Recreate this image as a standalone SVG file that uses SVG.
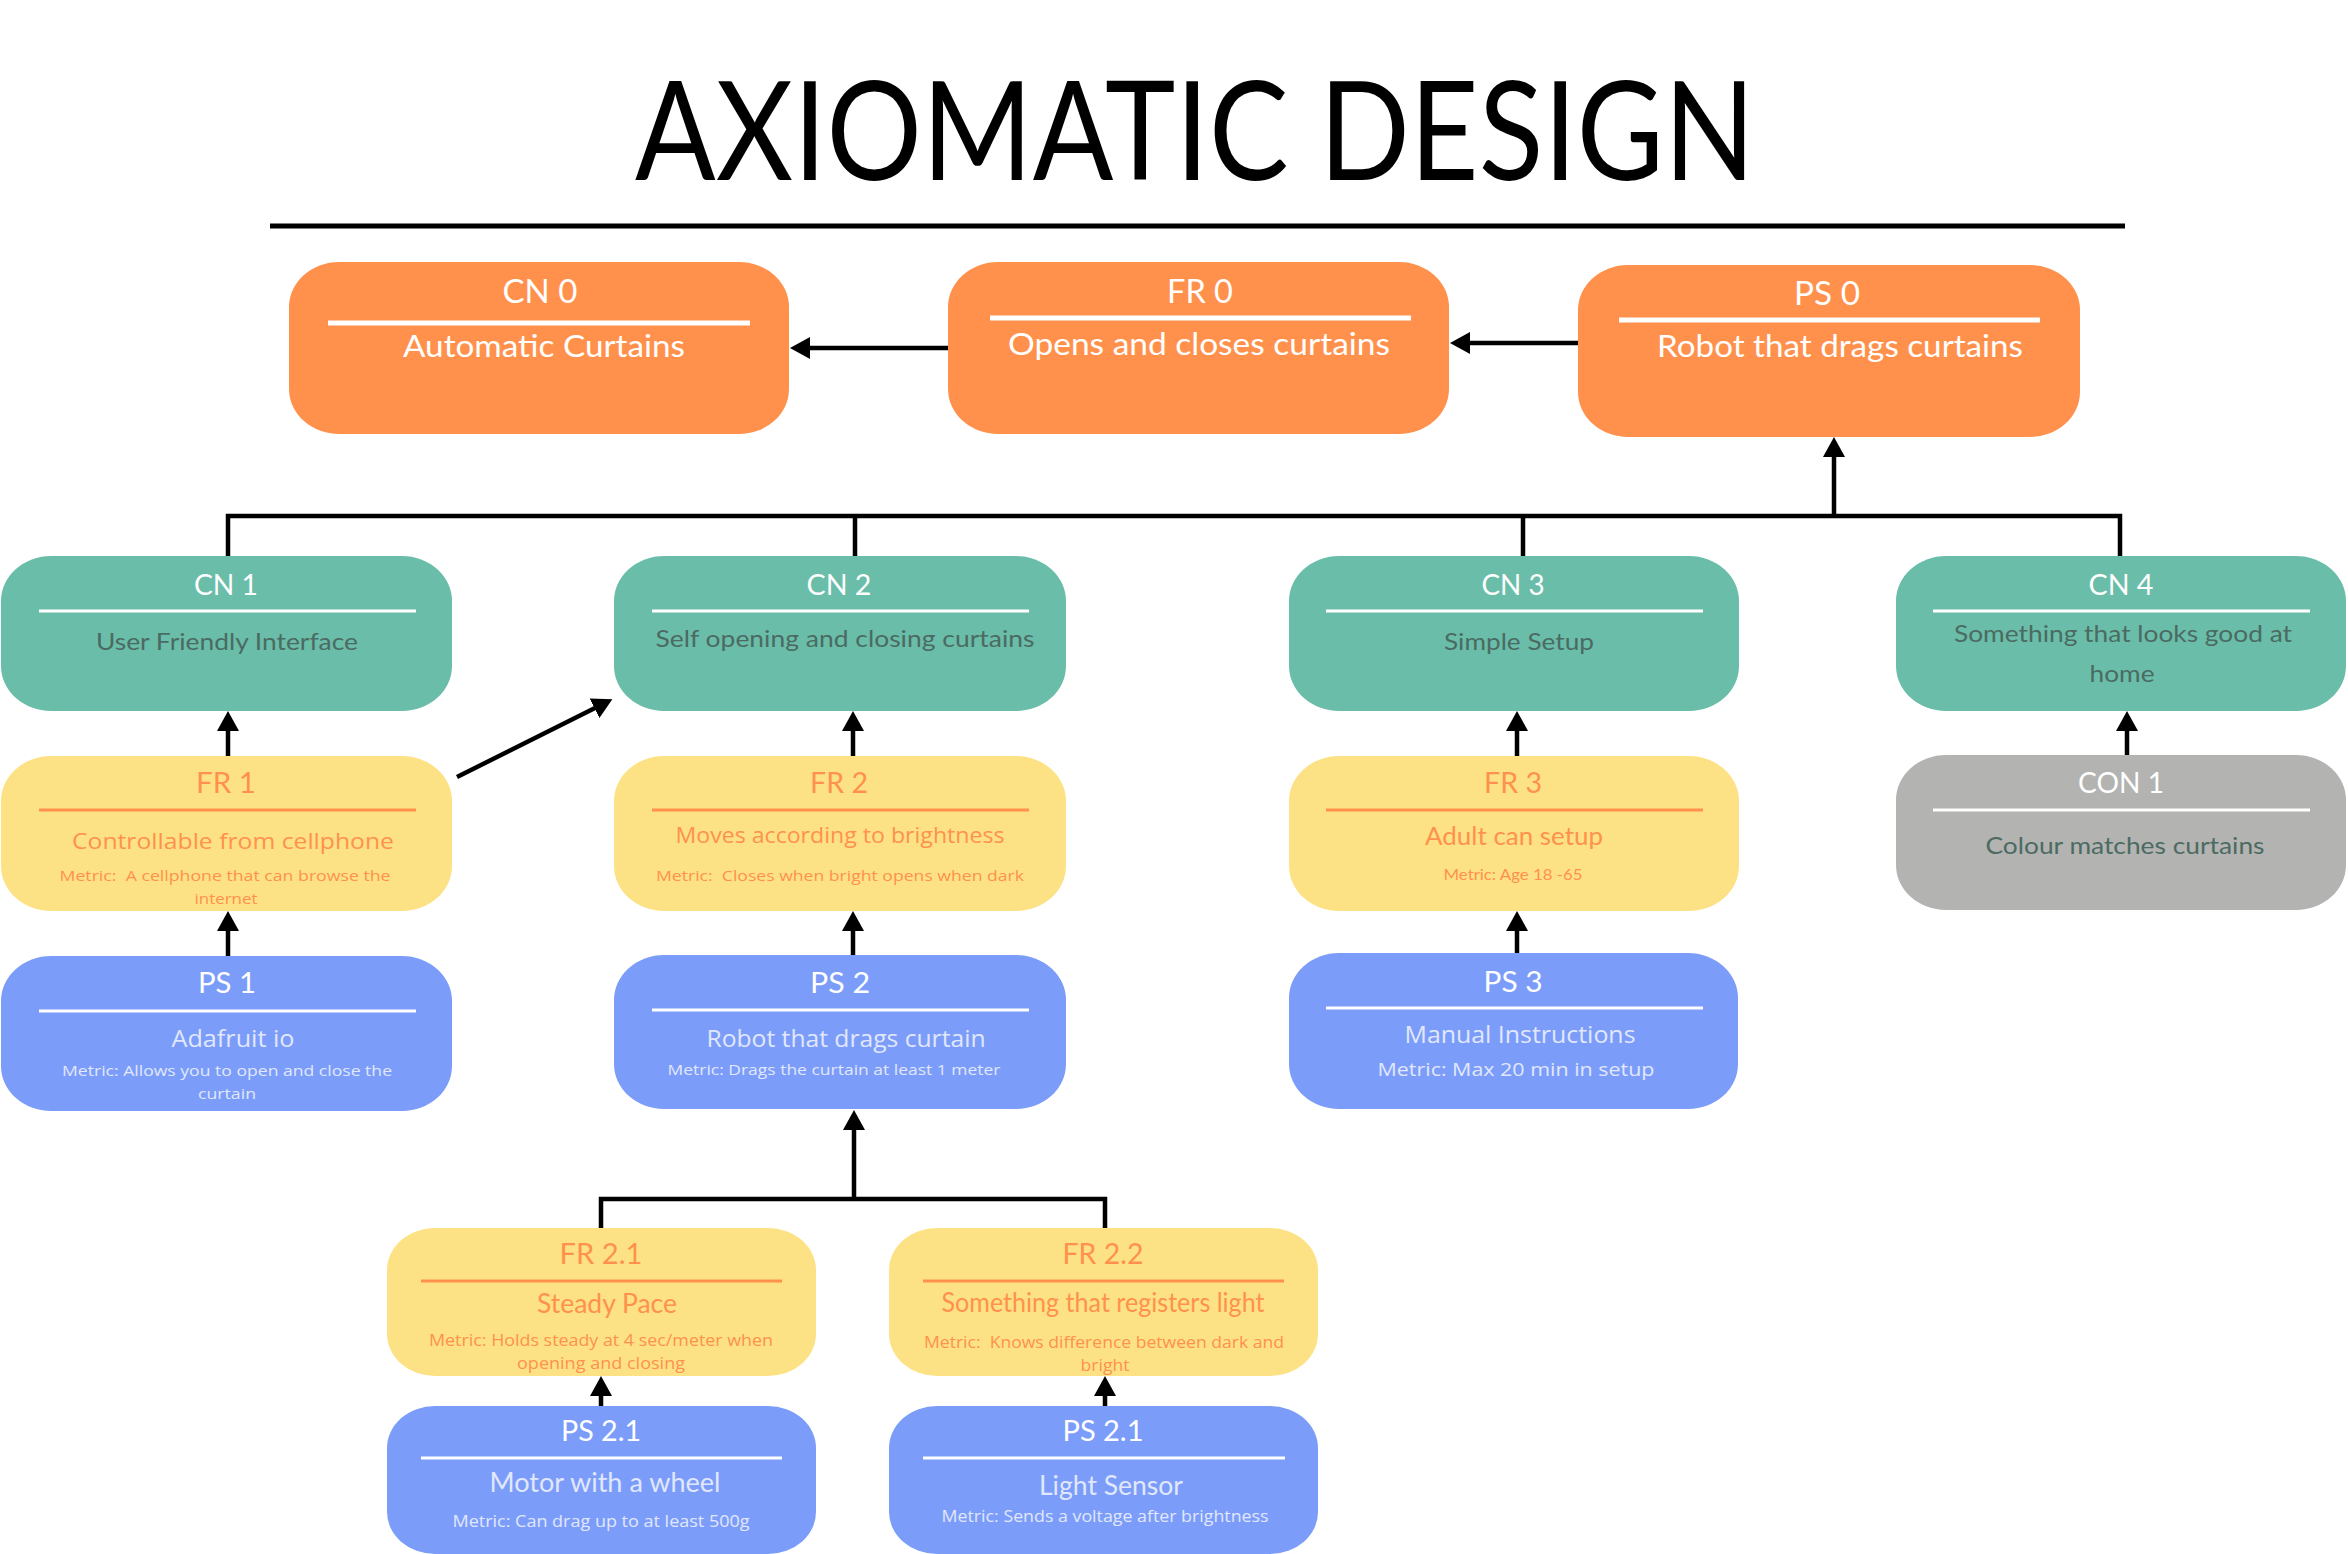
<svg xmlns="http://www.w3.org/2000/svg" width="2348" height="1554" viewBox="0 0 2348 1554">
<style>
text{text-anchor:middle}
.l{font-family:Lato,"Liberation Sans",sans-serif}
.o{font-family:"Open Sans","Liberation Sans",sans-serif}
.w{fill:#ffffff}
.tt{fill:#4b6b62}
.yt{fill:#ff914d}
.bt{fill:#e1e7fc}
.orange{fill:#ff914d}
.teal{fill:#6abda9}
.yellow{fill:#fde285}
.blue{fill:#7b9df9}
.grey{fill:#b3b3b1}
.dw{stroke:#ffffff;stroke-width:3}
.dw5{stroke:#ffffff;stroke-width:5}
.dy{stroke:#ff914d;stroke-width:3}
.c{stroke:#000;stroke-width:4.5;fill:none}
</style>
<defs>
<marker id="ah" markerUnits="userSpaceOnUse" markerWidth="22" markerHeight="24" refX="14" refY="11" orient="auto">
<path d="M0,0 L20,11 L0,22 Z" fill="#000"/>
</marker>
</defs>
<rect width="2348" height="1554" fill="#ffffff"/>
<g id="title">
<text class="l" x="1195" y="180" font-size="137" textLength="1120" lengthAdjust="spacingAndGlyphs" fill="#000">AXIOMATIC DESIGN</text>
<line x1="270" y1="226" x2="2125" y2="226" stroke="#000" stroke-width="5"/>
</g>
<g id="connectors">
<line class="c" x1="948" y1="348" x2="796" y2="348" marker-end="url(#ah)"/>
<line class="c" x1="1578" y1="343" x2="1456" y2="343" marker-end="url(#ah)"/>
<line class="c" x1="1834" y1="516" x2="1834" y2="443" marker-end="url(#ah)"/>
<polyline class="c" points="228,556 228,516 2120,516 2120,556"/>
<line class="c" x1="855" y1="516" x2="855" y2="556"/>
<line class="c" x1="1523" y1="516" x2="1523" y2="556"/>
<line class="c" x1="228" y1="756" x2="228" y2="717" marker-end="url(#ah)"/>
<line class="c" x1="853" y1="756" x2="853" y2="717" marker-end="url(#ah)"/>
<line class="c" x1="1517" y1="756" x2="1517" y2="717" marker-end="url(#ah)"/>
<line class="c" x1="2127" y1="755" x2="2127" y2="717" marker-end="url(#ah)"/>
<line class="c" x1="228" y1="956" x2="228" y2="917" marker-end="url(#ah)"/>
<line class="c" x1="853" y1="955" x2="853" y2="917" marker-end="url(#ah)"/>
<line class="c" x1="1517" y1="953" x2="1517" y2="917" marker-end="url(#ah)"/>
<line class="c" x1="457" y1="777" x2="607" y2="702" marker-end="url(#ah)"/>
<line class="c" x1="854" y1="1199" x2="854" y2="1116" marker-end="url(#ah)"/>
<polyline class="c" points="601,1228 601,1199 1105,1199 1105,1228"/>
<line class="c" x1="601" y1="1406" x2="601" y2="1382" marker-end="url(#ah)"/>
<line class="c" x1="1105" y1="1406" x2="1105" y2="1382" marker-end="url(#ah)"/>
</g>
<g id="CN0">
<rect class="orange" x="289" y="262" width="500" height="172" rx="50" ry="45"/>
<line class="dw5" x1="328" y1="323" x2="750" y2="323"/>
<text class="l w" x="540" y="303" font-size="32" textLength="75" lengthAdjust="spacingAndGlyphs">CN 0</text>
<text class="l w" x="544" y="357" font-size="31" textLength="282" lengthAdjust="spacingAndGlyphs">Automatic Curtains</text>
</g>
<g id="FR0">
<rect class="orange" x="948" y="262" width="501" height="172" rx="50" ry="45"/>
<line class="dw5" x1="990" y1="318" x2="1411" y2="318"/>
<text class="l w" x="1200" y="303" font-size="32" textLength="66" lengthAdjust="spacingAndGlyphs">FR 0</text>
<text class="l w" x="1199" y="355" font-size="31" textLength="382" lengthAdjust="spacingAndGlyphs">Opens and closes curtains</text>
</g>
<g id="PS0">
<rect class="orange" x="1578" y="265" width="502" height="172" rx="50" ry="45"/>
<line class="dw5" x1="1619" y1="320" x2="2040" y2="320"/>
<text class="l w" x="1827" y="305" font-size="32" textLength="66" lengthAdjust="spacingAndGlyphs">PS 0</text>
<text class="l w" x="1840" y="357" font-size="31" textLength="366" lengthAdjust="spacingAndGlyphs">Robot that drags curtains</text>
</g>
<g id="CN1">
<rect class="teal" x="1" y="556" width="451" height="155" rx="50" ry="45"/>
<line class="dw" x1="39" y1="611" x2="416" y2="611"/>
<text class="l w" x="226" y="595" font-size="29" textLength="64" lengthAdjust="spacingAndGlyphs">CN 1</text>
<text class="l tt" x="227" y="650" font-size="24" textLength="262" lengthAdjust="spacingAndGlyphs">User Friendly Interface</text>
</g>
<g id="CN2">
<rect class="teal" x="614" y="556" width="452" height="155" rx="50" ry="45"/>
<line class="dw" x1="652" y1="611" x2="1029" y2="611"/>
<text class="l w" x="839" y="595" font-size="29" textLength="65" lengthAdjust="spacingAndGlyphs">CN 2</text>
<text class="l tt" x="845" y="647" font-size="24" textLength="379" lengthAdjust="spacingAndGlyphs">Self opening and closing curtains</text>
</g>
<g id="CN3">
<rect class="teal" x="1289" y="556" width="450" height="155" rx="50" ry="45"/>
<line class="dw" x1="1326" y1="611" x2="1703" y2="611"/>
<text class="l w" x="1513" y="595" font-size="29" textLength="63" lengthAdjust="spacingAndGlyphs">CN 3</text>
<text class="l tt" x="1519" y="650" font-size="24" textLength="150" lengthAdjust="spacingAndGlyphs">Simple Setup</text>
</g>
<g id="CN4">
<rect class="teal" x="1896" y="556" width="450" height="155" rx="50" ry="45"/>
<line class="dw" x1="1933" y1="611" x2="2310" y2="611"/>
<text class="l w" x="2121" y="595" font-size="29" textLength="65" lengthAdjust="spacingAndGlyphs">CN 4</text>
<text class="l tt" x="2123" y="642" font-size="24" textLength="338" lengthAdjust="spacingAndGlyphs">Something that looks good at</text>
<text class="l tt" x="2122" y="682" font-size="24" textLength="65" lengthAdjust="spacingAndGlyphs">home</text>
</g>
<g id="FR1">
<rect class="yellow" x="1" y="756" width="451" height="155" rx="50" ry="45"/>
<line class="dy" x1="39" y1="810" x2="416" y2="810"/>
<text class="l yt" x="226" y="793" font-size="28" textLength="60" lengthAdjust="spacingAndGlyphs">FR 1</text>
<text class="o yt" x="233" y="849" font-size="22" textLength="322" lengthAdjust="spacingAndGlyphs">Controllable from cellphone</text>
<text class="o yt" x="225" y="881" font-size="15" textLength="331" lengthAdjust="spacingAndGlyphs" xml:space="preserve">Metric:  A cellphone that can browse the</text>
<text class="o yt" x="226" y="904" font-size="15" textLength="63" lengthAdjust="spacingAndGlyphs">internet</text>
</g>
<g id="FR2">
<rect class="yellow" x="614" y="756" width="452" height="155" rx="50" ry="45"/>
<line class="dy" x1="652" y1="810" x2="1029" y2="810"/>
<text class="l yt" x="839" y="793" font-size="28" textLength="58" lengthAdjust="spacingAndGlyphs">FR 2</text>
<text class="o yt" x="840" y="843" font-size="22" textLength="329" lengthAdjust="spacingAndGlyphs">Moves according to brightness</text>
<text class="o yt" x="840" y="881" font-size="15" textLength="368" lengthAdjust="spacingAndGlyphs" xml:space="preserve">Metric:  Closes when bright opens when dark</text>
</g>
<g id="FR3">
<rect class="yellow" x="1289" y="756" width="450" height="155" rx="50" ry="45"/>
<line class="dy" x1="1326" y1="810" x2="1703" y2="810"/>
<text class="l yt" x="1513" y="793" font-size="28" textLength="58" lengthAdjust="spacingAndGlyphs">FR 3</text>
<text class="l yt" x="1514" y="845" font-size="25" textLength="178" lengthAdjust="spacingAndGlyphs">Adult can setup</text>
<text class="l yt" x="1513" y="880" font-size="16" textLength="139" lengthAdjust="spacingAndGlyphs">Metric: Age 18 -65</text>
</g>
<g id="CON1">
<rect class="grey" x="1896" y="755" width="450" height="155" rx="50" ry="45"/>
<line class="dw" x1="1933" y1="810" x2="2310" y2="810"/>
<text class="l w" x="2121" y="793" font-size="29" textLength="86" lengthAdjust="spacingAndGlyphs">CON 1</text>
<text class="l tt" x="2125" y="854" font-size="24" textLength="279" lengthAdjust="spacingAndGlyphs">Colour matches curtains</text>
</g>
<g id="PS1">
<rect class="blue" x="1" y="956" width="451" height="155" rx="50" ry="45"/>
<line class="dw" x1="39" y1="1011" x2="416" y2="1011"/>
<text class="l w" x="227" y="993" font-size="29" textLength="58" lengthAdjust="spacingAndGlyphs">PS 1</text>
<text class="o bt" x="233" y="1047" font-size="23" textLength="123" lengthAdjust="spacingAndGlyphs">Adafruit io</text>
<text class="o bt" x="227" y="1076" font-size="15" textLength="330" lengthAdjust="spacingAndGlyphs">Metric: Allows you to open and close the</text>
<text class="o bt" x="227" y="1099" font-size="15" textLength="58" lengthAdjust="spacingAndGlyphs">curtain</text>
</g>
<g id="PS2">
<rect class="blue" x="614" y="955" width="452" height="154" rx="50" ry="45"/>
<line class="dw" x1="652" y1="1010" x2="1029" y2="1010"/>
<text class="l w" x="840" y="993" font-size="29" textLength="60" lengthAdjust="spacingAndGlyphs">PS 2</text>
<text class="o bt" x="846" y="1047" font-size="23" textLength="279" lengthAdjust="spacingAndGlyphs">Robot that drags curtain</text>
<text class="o bt" x="834" y="1075" font-size="15" textLength="333" lengthAdjust="spacingAndGlyphs">Metric: Drags the curtain at least 1 meter</text>
</g>
<g id="PS3">
<rect class="blue" x="1289" y="953" width="449" height="156" rx="50" ry="45"/>
<line class="dw" x1="1326" y1="1008" x2="1703" y2="1008"/>
<text class="l w" x="1513" y="992" font-size="29" textLength="59" lengthAdjust="spacingAndGlyphs">PS 3</text>
<text class="o bt" x="1520" y="1043" font-size="23" textLength="231" lengthAdjust="spacingAndGlyphs">Manual Instructions</text>
<text class="o bt" x="1516" y="1076" font-size="18" textLength="277" lengthAdjust="spacingAndGlyphs">Metric: Max 20 min in setup</text>
</g>
<g id="FR2_1">
<rect class="yellow" x="387" y="1228" width="429" height="148" rx="48" ry="42"/>
<line class="dy" x1="421" y1="1281" x2="782" y2="1281"/>
<text class="l yt" x="601" y="1264" font-size="28" textLength="83" lengthAdjust="spacingAndGlyphs">FR 2.1</text>
<text class="l yt" x="607" y="1313" font-size="26" textLength="140" lengthAdjust="spacingAndGlyphs">Steady Pace</text>
<text class="o yt" x="601" y="1346" font-size="16" textLength="344" lengthAdjust="spacingAndGlyphs">Metric: Holds steady at 4 sec/meter when</text>
<text class="o yt" x="601" y="1369" font-size="16" textLength="168" lengthAdjust="spacingAndGlyphs">opening and closing</text>
</g>
<g id="FR2_2">
<rect class="yellow" x="889" y="1228" width="429" height="148" rx="48" ry="42"/>
<line class="dy" x1="923" y1="1281" x2="1284" y2="1281"/>
<text class="l yt" x="1103" y="1264" font-size="28" textLength="81" lengthAdjust="spacingAndGlyphs">FR 2.2</text>
<text class="l yt" x="1103" y="1312" font-size="26" textLength="323" lengthAdjust="spacingAndGlyphs">Something that registers light</text>
<text class="o yt" x="1104" y="1348" font-size="16" textLength="360" lengthAdjust="spacingAndGlyphs" xml:space="preserve">Metric:  Knows difference between dark and</text>
<text class="o yt" x="1105" y="1371" font-size="16" textLength="49" lengthAdjust="spacingAndGlyphs">bright</text>
</g>
<g id="PS2_1a">
<rect class="blue" x="387" y="1406" width="429" height="148" rx="48" ry="42"/>
<line class="dw" x1="421" y1="1458" x2="782" y2="1458"/>
<text class="l w" x="601" y="1441" font-size="28" textLength="80" lengthAdjust="spacingAndGlyphs">PS 2.1</text>
<text class="l bt" x="605" y="1492" font-size="27" textLength="231" lengthAdjust="spacingAndGlyphs">Motor with a wheel</text>
<text class="o bt" x="601" y="1527" font-size="16" textLength="297" lengthAdjust="spacingAndGlyphs">Metric: Can drag up to at least 500g</text>
</g>
<g id="PS2_1b">
<rect class="blue" x="889" y="1406" width="429" height="148" rx="48" ry="42"/>
<line class="dw" x1="923" y1="1458" x2="1285" y2="1458"/>
<text class="l w" x="1103" y="1441" font-size="28" textLength="81" lengthAdjust="spacingAndGlyphs">PS 2.1</text>
<text class="l bt" x="1111" y="1495" font-size="27" textLength="144" lengthAdjust="spacingAndGlyphs">Light Sensor</text>
<text class="o bt" x="1105" y="1522" font-size="16" textLength="327" lengthAdjust="spacingAndGlyphs">Metric: Sends a voltage after brightness</text>
</g>
</svg>
